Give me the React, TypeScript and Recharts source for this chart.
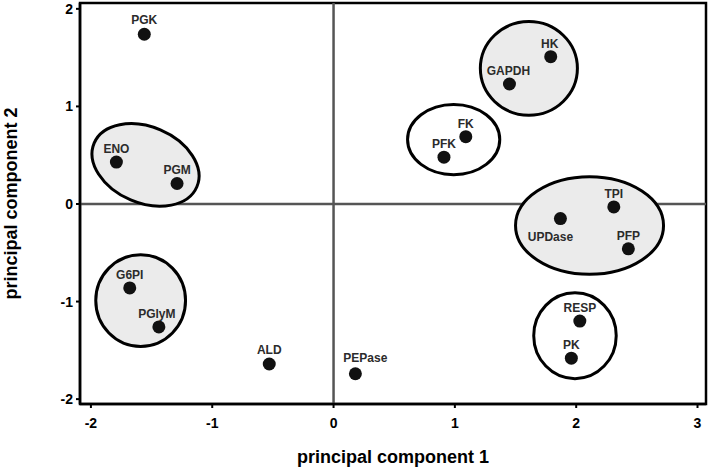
import { Label, ReferenceArea, ReferenceLine, Scatter, ScatterChart, XAxis, YAxis } from "recharts";

// PCA scores, one entry per enzyme
const enzymes = ["PGK", "HK", "GAPDH", "FK", "PFK", "TPI", "UPDase", "PFP", "ENO", "PGM", "G6PI", "PGlyM", "ALD", "PEPase", "RESP", "PK"];
const pc1 = [-1.56, 1.79, 1.45, 1.09, 0.91, 2.31, 1.87, 2.43, -1.79, -1.29, -1.68, -1.44, -0.53, 0.18, 2.03, 1.96];
const pc2 = [1.74, 1.51, 1.23, 0.69, 0.48, -0.03, -0.15, -0.46, 0.43, 0.21, -0.86, -1.26, -1.64, -1.74, -1.2, -1.58];

// cluster outlines (centre and half-extent in score units, tilt in degrees)
const clusterX = [-1.55, -1.59, 1.61, 0.99, 2.11, 1.99];
const clusterY = [0.4, -0.99, 1.39, 0.66, -0.22, -1.35];
const clusterRx = [0.46, 0.37, 0.4, 0.38, 0.61, 0.34];
const clusterRy = [0.39, 0.47, 0.48, 0.36, 0.5, 0.44];
const clusterTilt = [23, 0, 0, 0, 0, 0];
const clusterFill = [true, true, true, false, true, false];

const xTicks = [-2, -1, 0, 1, 2, 3];
const yTicks = [-2, -1, 0, 1, 2];

const X_DOMAIN: [number, number] = [-2.09, 3.07];
const Y_DOMAIN: [number, number] = [-2.05, 2.06];

const W = 711;
const H = 471;
const margin = { top: 3, right: 5, bottom: 7, left: 0 };
const Y_AXIS_W = 80;
const X_AXIS_H = 60;
const plotW = W - margin.left - margin.right - Y_AXIS_W;
const plotH = H - margin.top - margin.bottom - X_AXIS_H;
const pxX = plotW / (X_DOMAIN[1] - X_DOMAIN[0]);
const pxY = plotH / (Y_DOMAIN[1] - Y_DOMAIN[0]);

const FONT = "'Liberation Sans', Arial, sans-serif";

const points = enzymes.map((name, i) => ({ name, x: pc1[i], y: pc2[i] }));
const clusters = clusterX.map((x, i) => ({
  x,
  y: clusterY[i],
  rx: clusterRx[i],
  ry: clusterRy[i],
  tilt: clusterTilt[i],
  filled: clusterFill[i],
}));

const labelShift: Record<string, [number, number]> = {
  UPDase: [-10, 18],
  PEPase: [10, -16],
  PGK: [0, -14],
  ALD: [0, -14],
  HK: [-1, -13],
  GAPDH: [-1, -13],
  PGlyM: [-2, -13],
};

function EnzymeDot(props: any) {
  const { cx, cy, payload } = props;
  const [dx, dy] = labelShift[payload.name] ?? [0, -13];
  return (
    <g>
      <circle cx={cx} cy={cy} r={6.5} fill="#111" />
      <text
        x={cx + dx}
        y={cy + dy}
        textAnchor="middle"
        dominantBaseline="central"
        fontFamily={FONT}
        fontWeight="bold"
        fontSize={12}
        fill="#2b2b2b"
      >
        {payload.name}
      </text>
    </g>
  );
}

function ClusterShape(props: any) {
  const { cx, cy, payload } = props;
  return (
    <ellipse
      cx={cx}
      cy={cy}
      rx={payload.rx * pxX}
      ry={payload.ry * pxY}
      transform={`rotate(${payload.tilt} ${cx} ${cy})`}
      fill={payload.filled ? "#ebebeb" : "#fff"}
      stroke="#000"
      strokeWidth={3}
    />
  );
}

export default function App() {
  const tickStyle = { fontFamily: FONT, fontWeight: "bold", fontSize: 14, fill: "#000" };
  return (
    <div style={{ position: "absolute", left: 0, top: 0, background: "#fff" }}>
      <ScatterChart width={W} height={H} margin={margin}>
        <XAxis
          type="number"
          dataKey="x"
          domain={X_DOMAIN}
          ticks={xTicks}
          allowDataOverflow
          height={X_AXIS_H}
          tickSize={4}
          tickMargin={10}
          tick={tickStyle}
          axisLine={{ stroke: "#000", strokeWidth: 2.5 }}
          tickLine={{ stroke: "#000", strokeWidth: 2 }}
        >
          <Label
            value="principal component 1"
            position="insideBottom"
            offset={1}
            style={{ fontFamily: FONT, fontWeight: "bold", fontSize: 18, fill: "#000" }}
          />
        </XAxis>
        <YAxis
          type="number"
          dataKey="y"
          domain={Y_DOMAIN}
          ticks={yTicks}
          allowDataOverflow
          width={Y_AXIS_W}
          tickSize={4}
          tickMargin={3}
          tick={tickStyle}
          axisLine={{ stroke: "#000", strokeWidth: 2.5 }}
          tickLine={{ stroke: "#000", strokeWidth: 2 }}
        >
          <Label
            value="principal component 2"
            angle={-90}
            position="center"
            dx={-29}
            style={{ fontFamily: FONT, fontWeight: "bold", fontSize: 18, fill: "#000", textAnchor: "middle" }}
          />
        </YAxis>
        <Scatter data={clusters} shape={ClusterShape} isAnimationActive={false} />
        <ReferenceLine x={0} stroke="#555" strokeWidth={2.5} />
        <ReferenceLine y={0} stroke="#555" strokeWidth={2.5} />
        <ReferenceArea
          x1={X_DOMAIN[0]}
          x2={X_DOMAIN[1]}
          y1={Y_DOMAIN[0]}
          y2={Y_DOMAIN[1]}
          fill="none"
          stroke="#000"
          strokeWidth={2.5}
          fillOpacity={0}
        />
        <Scatter data={points} shape={EnzymeDot} isAnimationActive={false} />
      </ScatterChart>
    </div>
  );
}
